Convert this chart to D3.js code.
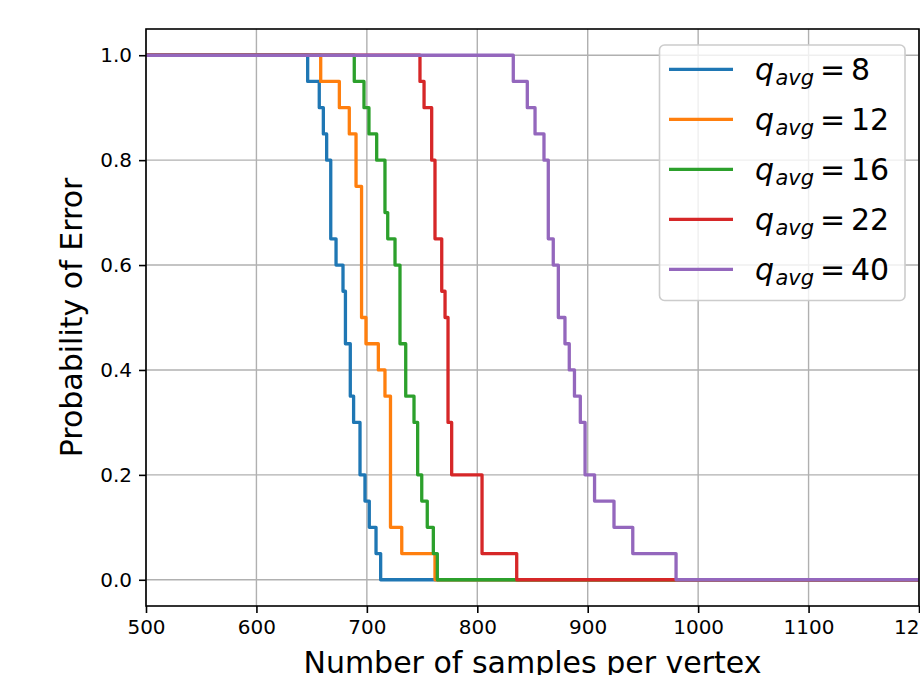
<!DOCTYPE html>
<html>
<head>
<meta charset="utf-8">
<script src="https://cdn.jsdelivr.net/npm/d3@7/dist/d3.min.js"></script>
<style>
  html, body { margin: 0; padding: 0; background: #fff; }
  svg { display: block; font-family: "DejaVu Sans", sans-serif; }
</style>
</head>
<body>
<svg id="chart" width="920" height="675"></svg>
<script>
// ---- data ----
const qavg = [8, 12, 16, 22, 40];
const colors = ["#1f77b4", "#ff7f0e", "#2ca02c", "#d62728", "#9467bd"];
const xTicks = [500, 600, 700, 800, 900, 1000, 1100, 1200];
const yTicks = [0.0, 0.2, 0.4, 0.6, 0.8, 1.0];
const xLabel = "Number of samples per vertex";
const yLabel = "Probability of Error";

// sample counts where the error probability drops, and the level after each drop
const q8Samples  = [646.4, 656.9, 660.6, 663.6, 667.3, 672.1, 678.4, 680.6, 685.0, 688.0, 693.8, 698.3, 702.2, 708.3, 712.5];
const q8Prob     = [0.95, 0.90, 0.85, 0.80, 0.65, 0.60, 0.55, 0.45, 0.35, 0.30, 0.20, 0.15, 0.10, 0.05, 0.00];
const q12Samples = [658.2, 675.1, 684.1, 690.2, 695.2, 699.2, 710.4, 716.4, 721.4, 731.6, 761.7];
const q12Prob    = [0.95, 0.90, 0.85, 0.75, 0.50, 0.45, 0.40, 0.35, 0.10, 0.05, 0.00];
const q16Samples = [688.6, 697.4, 701.9, 708.9, 716.4, 718.9, 725.5, 730.0, 735.2, 742.7, 746.0, 749.7, 754.7, 760.2, 763.8];
const q16Prob    = [0.95, 0.90, 0.85, 0.80, 0.70, 0.65, 0.60, 0.45, 0.35, 0.30, 0.20, 0.15, 0.10, 0.05, 0.00];
const q22Samples = [748.1, 751.8, 758.7, 761.7, 767.8, 770.8, 773.5, 776.8, 804.3, 835.7];
const q22Prob    = [0.95, 0.90, 0.80, 0.65, 0.55, 0.50, 0.30, 0.20, 0.05, 0.00];
const q40Samples = [832.6, 845.3, 852.3, 860.4, 864.3, 868.8, 873.4, 879.4, 883.3, 888.0, 893.3, 897.6, 906.2, 923.8, 940.8, 980.0];
const q40Prob    = [0.95, 0.90, 0.85, 0.80, 0.65, 0.60, 0.50, 0.45, 0.40, 0.35, 0.30, 0.20, 0.15, 0.10, 0.05, 0.00];

const seriesSamples = [q8Samples, q12Samples, q16Samples, q22Samples, q40Samples];
const seriesProb = [q8Prob, q12Prob, q16Prob, q22Prob, q40Prob];

// ---- layout ----
const L = 146, R = 919, T = 29, B = 606;
const svg = d3.select("#chart");

const x = d3.scaleLinear().domain([500, 1200]).range([L, R]);
const y = d3.scaleLinear().domain([-0.05, 1.05]).range([B, T]);

// axes background
svg.append("rect").attr("x", L).attr("y", T).attr("width", R - L).attr("height", B - T).attr("fill", "#fff");

// grid
const grid = svg.append("g");
grid.selectAll("line.gx").data(xTicks).join("line")
  .attr("x1", d => x(d)).attr("x2", d => x(d)).attr("y1", T).attr("y2", B)
  .attr("stroke", "#b0b0b0").attr("stroke-width", 1.4);
grid.selectAll("line.gy").data(yTicks).join("line")
  .attr("y1", d => y(d)).attr("y2", d => y(d)).attr("x1", L).attr("x2", R)
  .attr("stroke", "#b0b0b0").attr("stroke-width", 1.4);

// clip
svg.append("clipPath").attr("id", "clip").append("rect")
  .attr("x", L).attr("y", T).attr("width", R - L).attr("height", B - T);

// lines
const line = d3.line().x(d => x(d[0])).y(d => y(d[1])).curve(d3.curveStepAfter);
const lines = svg.append("g").attr("clip-path", "url(#clip)");
qavg.forEach((q, i) => {
  const pts = [[500, 1.0]];
  seriesSamples[i].forEach((s, j) => pts.push([s, seriesProb[i][j]]));
  pts.push([1200, 0.0]);
  lines.append("path").datum(pts)
    .attr("d", line)
    .attr("fill", "none")
    .attr("stroke", colors[i])
    .attr("stroke-width", 3.3)
    .attr("stroke-linejoin", "round")
    .attr("stroke-linecap", "square");
});

// axes
const xAxis = d3.axisBottom(x).tickValues(xTicks).tickFormat(d3.format("d")).tickSizeOuter(0).tickSize(7).tickPadding(7);
const yAxis = d3.axisLeft(y).tickValues(yTicks).tickFormat(d3.format(".1f")).tickSizeOuter(0).tickSize(7).tickPadding(7);

const gx = svg.append("g").attr("transform", `translate(0,${B})`).call(xAxis);
const gy = svg.append("g").attr("transform", `translate(${L},0)`).call(yAxis);
[gx, gy].forEach(g => {
  g.select(".domain").remove();
  g.selectAll(".tick line").attr("stroke", "#000").attr("stroke-width", 1.6);
  g.selectAll(".tick text").attr("fill", "#000").attr("font-size", 20).attr("font-family", "DejaVu Sans");
});

// spines
svg.append("rect").attr("x", L).attr("y", T).attr("width", R - L).attr("height", B - T)
  .attr("fill", "none").attr("stroke", "#000").attr("stroke-width", 1.6);

// axis labels
svg.append("text").attr("x", (L + R) / 2).attr("y", 673).attr("text-anchor", "middle")
  .attr("font-size", 30).attr("fill", "#000").text(xLabel);
svg.append("text").attr("transform", `translate(82,${(T + B) / 2}) rotate(-90)`)
  .attr("text-anchor", "middle").attr("font-size", 30).attr("fill", "#000").text(yLabel);

// legend
const lg = svg.append("g");
lg.append("rect").attr("x", 659.5).attr("y", 45).attr("width", 245.5).attr("height", 255.5)
  .attr("rx", 5).attr("ry", 5)
  .attr("fill", "#fff").attr("fill-opacity", 0.8)
  .attr("stroke", "#cccccc").attr("stroke-width", 1.6);
qavg.forEach((q, i) => {
  const cy = 69.3 + i * 50;
  lg.append("line").attr("x1", 669).attr("x2", 733).attr("y1", cy).attr("y2", cy)
    .attr("stroke", colors[i]).attr("stroke-width", 3.3);
  const t = lg.append("text").attr("y", cy + 10.7).attr("font-size", 30).attr("fill", "#000");
  t.append("tspan").attr("x", 755).attr("font-style", "italic").text("q");
  t.append("tspan").attr("x", 775.5).attr("dy", 5).attr("font-style", "italic").attr("font-size", 21).text("avg");
  t.append("tspan").attr("x", 820).attr("dy", -5).text("=");
  t.append("tspan").attr("x", 851).text(String(q));
});
</script>
</body>
</html>
